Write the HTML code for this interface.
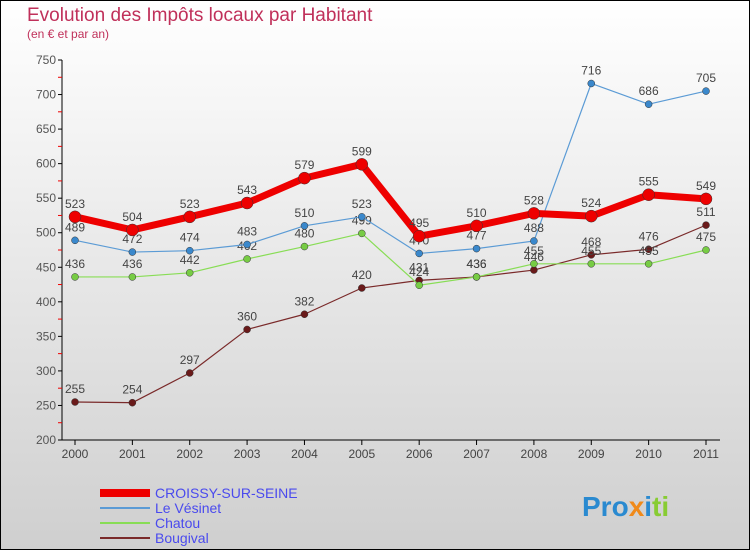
<!DOCTYPE html>
<html><head><meta charset="utf-8"><style>
body{margin:0}
svg text{font-family:"Liberation Sans",sans-serif}
</style></head><body>
<svg id="c" width="750" height="550" xmlns="http://www.w3.org/2000/svg">
<defs><linearGradient id="bg" x1="0" y1="0" x2="0" y2="1"><stop offset="0" stop-color="#ffffff"/><stop offset="1" stop-color="#cfcfcf"/></linearGradient></defs>
<rect x="0.5" y="0.5" width="749" height="549" fill="url(#bg)" stroke="#000"/>
<text x="27" y="21" font-size="19" fill="#c0305a">Evolution des Impôts locaux par Habitant</text>
<text x="27" y="38" font-size="12" fill="#c0305a">(en € et par an)</text>
<g id="axes"></g>
<g id="series"></g>
<g>
<line x1="100" y1="493" x2="150" y2="493" stroke="#e00" stroke-width="8"/>
<text x="155" y="498" font-size="14" fill="#4a4aee">CROISSY-SUR-SEINE</text>
<line x1="100" y1="508" x2="150" y2="508" stroke="#5b9bd5" stroke-width="2"/>
<text x="155" y="513" font-size="14" fill="#4a4aee">Le Vésinet</text>
<line x1="100" y1="523" x2="150" y2="523" stroke="#88dd55" stroke-width="2"/>
<text x="155" y="528" font-size="14" fill="#4a4aee">Chatou</text>
<line x1="100" y1="538" x2="150" y2="538" stroke="#7a2a2a" stroke-width="2"/>
<text x="155" y="543" font-size="14" fill="#4a4aee">Bougival</text>
</g>
<text x="582" y="516" font-size="28" font-weight="bold" fill="#2a8ad0">Pro<tspan fill="#f08a1a">x</tspan><tspan fill="#2a8ad0">i</tspan><tspan fill="#88cc33">ti</tspan></text>
</svg>
<script>
const years=[2000,2001,2002,2003,2004,2005,2006,2007,2008,2009,2010,2011];
const croissy=[523,504,523,543,579,599,495,510,528,524,555,549];
const vesinet=[489,472,474,483,510,523,470,477,488,716,686,705];
const chatou=[436,436,442,462,480,499,424,436,455,455,455,475];
const bougival=[255,254,297,360,382,420,431,436,446,468,476,511];
const yTicks=[200,250,300,350,400,450,500,550,600,650,700,750];
const NS="http://www.w3.org/2000/svg";
const x0=75,x1=706,yTop=60,yBot=440,vMin=200,vMax=750;
function xs(i){return x0+(x1-x0)*i/(years.length-1);}
function ys(v){return yBot-(v-vMin)*(yBot-yTop)/(vMax-vMin);}
function mk(tag,attrs,parent){const e=document.createElementNS(NS,tag);for(const k in attrs)e.setAttribute(k,attrs[k]);parent.appendChild(e);return e;}
const ax=document.getElementById('axes');
let l=mk('line',{x1:62,y1:yTop,x2:62,y2:yBot,stroke:'#000'},ax);


l=mk('line',{x1:62,y1:yBot,x2:720,y2:yBot,stroke:'#000'},ax);


yTicks.forEach((t,i)=>{const y=ys(t);
 mk('line',{x1:58,y1:y,x2:62,y2:y,stroke:'#000'},ax);
 const tx=mk('text',{x:56,y:y+4,'font-size':12,fill:'#555','text-anchor':'end'},ax);tx.textContent=t;
 
 
 if(i<yTicks.length-1){const ym=ys(t+25);mk('line',{x1:58,y1:ym,x2:62,y2:ym,stroke:'#e00'},ax);}
});
years.forEach((yr,i)=>{const x=xs(i);
 mk('line',{x1:x,y1:yBot,x2:x,y2:yBot+5,stroke:'#000'},ax);
 const tx=mk('text',{x:x,y:yBot+18,'font-size':12,fill:'#444','text-anchor':'middle'},ax);tx.textContent=yr;
 
 
});
const sg=document.getElementById('series');
function draw(data,name,color,w,r,dot){
 const g=mk('g',{},sg);
 
 
 const p=mk('polyline',{points:data.map((v,i)=>xs(i)+','+ys(v)).join(' '),fill:'none',stroke:color,'stroke-width':w,'stroke-linejoin':'round'},g);
 
 
 data.forEach((v,i)=>{
  const c=mk('circle',{cx:xs(i),cy:ys(v),r:r,fill:dot,stroke:'#333','stroke-width':0.5},g);
  
  
  const t=mk('text',{x:xs(i),y:ys(v)-9,'font-size':12,fill:'#444','text-anchor':'middle'},g);t.textContent=v;
  
  
 });
}
draw(bougival,'bougival','#7a2a2a',1.2,3.5,'#6a1a1a');
draw(chatou,'chatou','#88dd55',1.2,3.5,'#77cc44');
draw(vesinet,'vesinet','#5b9bd5',1.2,3.5,'#3a88cc');
draw(croissy,'croissy','#ee0000',7,6,'#ee0000');
</script>
</body></html>
